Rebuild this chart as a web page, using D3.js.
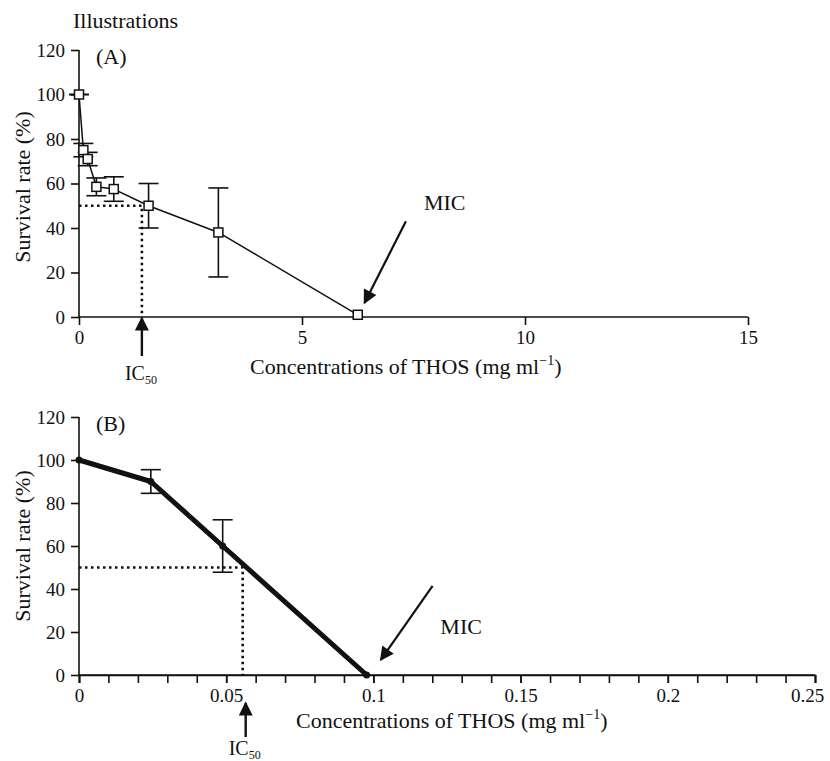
<!DOCTYPE html>
<html>
<head>
<meta charset="utf-8">
<script src="https://cdn.jsdelivr.net/npm/d3@7"></script>
<style>
  body { margin: 0; background: #fff; }
  text { font-family: "Liberation Serif", "Times New Roman", serif; fill: #111; }
  .axis path, .axis line { stroke: #111; stroke-width: 1.6px; }
  .axis text { font-size: 19px; font-family: "Liberation Serif", "Times New Roman", serif; fill: #111; }
</style>
</head>
<body>
<svg id="chart" width="830" height="761" font-family="Liberation Serif, serif"></svg>
<script>
// panel A: THOS concentration vs survival (open squares)
var concA = [0, 0.098, 0.195, 0.39, 0.78, 1.56, 3.125, 6.25];
var survA = [100, 75, 71, 58.5, 57.5, 50, 38, 1];
var errA = [0, 3, 3, 4, 5.5, 10, 20, 0];
var ticksAx = [0, 5, 10, 15];
var icA = 1.41;

// panel B
var concB = [0, 0.0244, 0.0488, 0.0977];
var survB = [100, 90, 60, 0];
var errB = [0, 5.5, 12.2, 0];
var ticksBx = [0, 0.05, 0.1, 0.15, 0.2, 0.25];
var minorBx = d3.range(0, 26).map(function(i) { return i / 100; });
var icB = 0.0556;

var ticksY = [0, 20, 40, 60, 80, 100, 120];
var xLabel = "Concentrations of THOS (mg ml";

var svg = d3.select('#chart');

var defs = svg.append('defs');
defs.append('marker')
    .attr('id', 'head')
    .attr('viewBox', '0 0 10 10')
    .attr('refX', 9).attr('refY', 5)
    .attr('markerUnits', 'userSpaceOnUse')
    .attr('markerWidth', 16).attr('markerHeight', 14)
    .attr('orient', 'auto')
    .append('path')
    .attr('d', 'M0,0 L10,5 L0,10 Z')
    .attr('fill', '#111');

svg.append('text')
    .attr('x', 73).attr('y', 28)
    .style('font-size', '22px')
    .text('Illustrations');

function drawPanel(p) {
    var x = d3.scaleLinear().domain(p.xDomain).range([79, p.xRight]);
    var y = d3.scaleLinear().domain([0, 120]).range([p.yZero, p.yTop]);
    var g = svg.append('g');

    // y axis
    var ya = g.append('g').attr('class', 'axis')
        .attr('transform', 'translate(79,0)')
        .call(d3.axisLeft(y).tickValues(ticksY).tickSizeInner(8).tickSizeOuter(0).tickPadding(6));

    // x axis
    if (p.minor) {
        g.append('g').attr('class', 'axis')
            .attr('transform', 'translate(0,' + p.yZero + ')')
            .call(d3.axisBottom(x).tickValues(p.minor).tickSize(8).tickFormat(''));
    }
    var xa = g.append('g').attr('class', 'axis')
        .attr('transform', 'translate(0,' + p.yZero + ')')
        .call(d3.axisBottom(x).tickValues(p.ticks).tickSizeInner(8).tickSizeOuter(0)
            .tickPadding(p.tickPad).tickFormat(function(d) { return String(d); }));
    xa.select('.domain').attr('d', 'M79,0H' + p.xRight);
    ya.select('.domain').attr('d', 'M0,' + p.yTop + 'V' + p.yZero);
    // last label sits a little inside the edge
    xa.selectAll('.tick text').filter(function(d) { return d === p.ticks[p.ticks.length - 1]; })
        .attr('dx', p.lastDx);

    // y label
    g.append('text')
        .attr('transform', 'translate(30,' + p.yLabelY + ') rotate(-90)')
        .attr('text-anchor', 'middle')
        .style('font-size', '22px')
        .text('Survival rate (%)');

    // x label with superscript
    var xl = g.append('text')
        .attr('x', p.xLabelX).attr('y', p.xLabelY)
        .style('font-size', '22px')
        .text(xLabel);
    xl.append('tspan').attr('dy', -9).style('font-size', '14px').text('\u22121');
    xl.append('tspan').attr('dy', 9).text(')');

    // panel letter
    g.append('text')
        .attr('x', 96).attr('y', y(120) + 14)
        .style('font-size', '22px')
        .text(p.letter);

    // IC50 dotted guide
    g.append('path')
        .attr('d', 'M' + x(0) + ',' + y(50) + 'H' + x(p.ic) + 'V' + y(0))
        .attr('fill', 'none')
        .attr('stroke', '#111')
        .attr('stroke-width', 2.6)
        .attr('stroke-dasharray', '2.5,3.5');

    // line
    var line = d3.line()
        .x(function(d) { return x(d[0]); })
        .y(function(d) { return y(d[1]); });
    var pts = d3.zip(p.conc, p.surv);
    g.append('path')
        .datum(pts)
        .attr('d', line)
        .attr('fill', 'none')
        .attr('stroke', '#111')
        .attr('stroke-width', p.lineW)
        .attr('stroke-linejoin', 'round');

    // error bars
    var eb = g.selectAll('.eb').data(pts.map(function(d, i) { return [d[0], d[1], p.err[i]]; }))
        .enter().append('g');
    eb.filter(function(d) { return d[2] > 0; })
        .append('line')
        .attr('x1', function(d) { return x(d[0]); })
        .attr('x2', function(d) { return x(d[0]); })
        .attr('y1', function(d) { return y(d[1] - d[2]); })
        .attr('y2', function(d) { return y(d[1] + d[2]); })
        .attr('stroke', '#111').attr('stroke-width', 1.6);
    eb.filter(function(d, i) { return d[2] > 0 || (p.capZero && i === 0); }).each(function(d) {
        var s = d3.select(this);
        [d[1] - d[2], d[1] + d[2]].forEach(function(v) {
            s.append('line')
                .attr('x1', x(d[0]) - 10).attr('x2', x(d[0]) + 10)
                .attr('y1', y(v)).attr('y2', y(v))
                .attr('stroke', '#111').attr('stroke-width', 1.6);
        });
    });

    // markers
    if (p.square) {
        g.selectAll('.mk').data(pts).enter().append('rect')
            .attr('x', function(d) { return x(d[0]) - 4.5; })
            .attr('y', function(d) { return y(d[1]) - 4.5; })
            .attr('width', 9).attr('height', 9)
            .attr('fill', '#fff').attr('stroke', '#111').attr('stroke-width', 1.5);
    } else {
        g.selectAll('.mk').data(pts).enter().append('circle')
            .attr('cx', function(d) { return x(d[0]); })
            .attr('cy', function(d) { return y(d[1]); })
            .attr('r', 3.5).attr('fill', '#111');
    }

    // MIC arrow + label
    g.append('line')
        .attr('x1', x(p.micTail[0])).attr('y1', y(p.micTail[1]))
        .attr('x2', x(p.micTip[0])).attr('y2', y(p.micTip[1]))
        .attr('stroke', '#111').attr('stroke-width', 2.2)
        .attr('marker-end', 'url(#head)');
    g.append('text')
        .attr('x', x(p.micText[0])).attr('y', y(p.micText[1]))
        .attr('text-anchor', 'middle')
        .style('font-size', '22px')
        .text('MIC');

    // IC50 arrow + label
    var ax = x(p.ic) + p.icShift;
    g.append('line')
        .attr('x1', ax).attr('y1', p.yZero + p.icArrow[0])
        .attr('x2', ax).attr('y2', p.yZero + p.icArrow[1])
        .attr('stroke', '#111').attr('stroke-width', 2.4)
        .attr('marker-end', 'url(#head)');
    var ic = g.append('text')
        .attr('x', ax - 17).attr('y', p.yZero + p.icText)
        .style('font-size', '20px')
        .text('IC');
    ic.append('tspan').attr('dy', 4).style('font-size', '12px').text('50');
}

drawPanel({
    letter: '(A)', xDomain: [0, 15], xRight: 748, yZero: 317, yTop: 50,
    ticks: ticksAx, minor: null, tickPad: 6, lastDx: 0,
    conc: concA, surv: survA, err: errA, capZero: true, square: true, lineW: 1.5,
    ic: icA, icShift: 0, icArrow: [39, 1], icText: 63,
    micTail: [7.33, 43], micTip: [6.4, 6.3], micText: [8.2, 48],
    xLabelX: 250, xLabelY: 374, yLabelY: 187
});

drawPanel({
    letter: '(B)', xDomain: [0, 0.25], xRight: 815, yZero: 675, yTop: 417,
    ticks: ticksBx, minor: minorBx, tickPad: 6, lastDx: -8,
    conc: concB, surv: survB, err: errB, capZero: false, square: false, lineW: 5,
    ic: icB, icShift: 3, icArrow: [62, 28], icText: 80,
    micTail: [0.1201, 41.4], micTip: [0.1025, 7], micText: [0.1298, 19],
    xLabelX: 296, xLabelY: 728, yLabelY: 546
});
</script>
</body>
</html>
